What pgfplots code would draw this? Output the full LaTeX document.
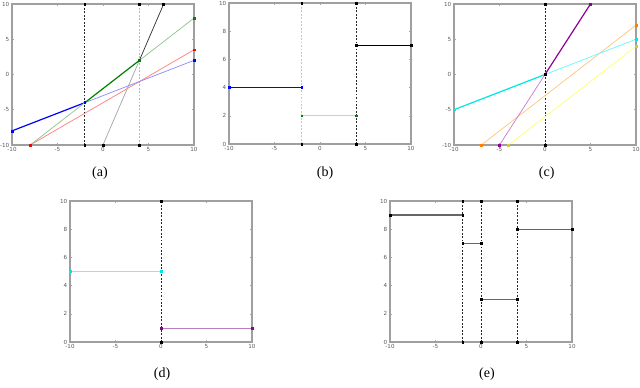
\documentclass[border=0pt]{standalone}
\usepackage{pgfplots}
\pgfplotsset{compat=1.18}
\usepackage{fontspec}
\setmainfont{Liberation Serif}
\newfontfamily\tickfont{DejaVu Sans}

\definecolor{lblue}{rgb}{0.55,0.55,1}
\definecolor{dgreen}{rgb}{0,0.5,0}
\definecolor{lgreen}{rgb}{0.55,0.78,0.55}
\definecolor{lred}{rgb}{1,0.5,0.5}
\definecolor{mcyan}{rgb}{0,0.9,0.9}
\definecolor{lcyan}{rgb}{0.4,0.98,0.98}
\definecolor{dpurple}{rgb}{0.55,0,0.6}
\definecolor{lpurple}{rgb}{0.78,0.5,0.8}
\definecolor{lorange}{rgb}{1,0.78,0.5}
\definecolor{lyellow}{rgb}{1,1,0.45}

\pgfplotsset{
  panel/.style={
    scale only axis, anchor=south west,
    width=136.5pt, height=105.75pt,
    xmin=-10, xmax=10, clip=false,
    xtick={-10,-5,0,5,10},
    axis line style={gray!75, line width=1.1pt},
    tick style={gray!70, line width=0.4pt},
    tick align=inside, major tick length=1.8pt,
    /pgf/number format/assume math mode=true,
    ticklabel style={font=\tickfont\fontsize{4.2}{5}\selectfont, text=black!65},
    xticklabel style={yshift=1.5pt},
    yticklabel style={xshift=1.5pt},
  },
  thin seg/.style={line width=0.55pt},
  thick seg/.style={line width=0.9pt},
  pts/.style={only marks, mark=square*, mark size=0.7pt},
  vdash/.style={line width=0.55pt, dash pattern=on 1.4pt off 1.2pt},
}

\begin{document}
\begin{tikzpicture}
\path[use as bounding box] (0,0) rectangle (480pt,291pt);

% (a)
\begin{axis}[panel, at={(9pt,182.25pt)}, ymin=-10, ymax=10, ytick={-10,-5,0,5,10}]
  \addplot[vdash, black!85] coordinates {(-2,-10) (-2,10)};
  \addplot[vdash, gray!55] coordinates {(4,-10) (4,10)};
  \addplot[thin seg, gray!70] coordinates {(0,-10) (4,2)};
  \addplot[thin seg, black!80] coordinates {(4,2) (6.667,10)};
  \addplot[thin seg, lred] coordinates {(-8,-10) (10,3.5)};
  \addplot[thin seg, lblue] coordinates {(-2,-4) (10,2)};
  \addplot[thick seg, blue] coordinates {(-10,-8) (-2,-4)};
  \addplot[thin seg, lgreen] coordinates {(-8,-10) (-2,-4)};
  \addplot[thin seg, lgreen] coordinates {(4,2) (10,8)};
  \addplot[thick seg, dgreen] coordinates {(-2,-4) (4,2)};
  \addplot[pts, black] coordinates {(-2,-10) (-2,10) (4,-10) (4,10) (0,-10) (6.667,10)};
  \addplot[pts, blue] coordinates {(-10,-8) (-2,-4) (10,2)};
  \addplot[pts, dgreen] coordinates {(4,2) (10,8)};
  \addplot[pts, red] coordinates {(-8,-10) (10,3.5)};
\end{axis}

% (b)
\begin{axis}[panel, at={(171.75pt,183pt)}, ymin=0, ymax=10, ytick={0,2,4,6,8,10}]
  \addplot[vdash, gray!45] coordinates {(-2,0) (-2,10)};
  \addplot[vdash, black!85] coordinates {(4,0) (4,10)};
  \addplot[thick seg, blue] coordinates {(-10,4) (-2,4)};
  \addplot[thick seg, lgreen!60] coordinates {(-2,2) (4,2)};
  \addplot[thin seg, black] coordinates {(4,7) (10,7)};
  \addplot[pts, black] coordinates {(-2,0) (-2,10) (4,0) (4,10) (4,7) (10,7)};
  \addplot[pts, blue] coordinates {(-10,4) (-2,4)};
  \addplot[pts, dgreen] coordinates {(-2,2) (4,2)};
\end{axis}

% (c)
\begin{axis}[panel, at={(340.5pt,182.25pt)}, ymin=-10, ymax=10, ytick={-10,-5,0,5,10}]
  \addplot[vdash, black!85] coordinates {(0,-10) (0,10)};
  \addplot[thin seg, lorange] coordinates {(-7,-10) (10,7)};
  \addplot[thin seg, lyellow] coordinates {(-4,-10) (10,4)};
  \addplot[thin seg, lcyan] coordinates {(0,0) (10,5)};
  \addplot[thick seg, mcyan] coordinates {(-10,-5) (0,0)};
  \addplot[thin seg, lpurple] coordinates {(-5,-10) (0,0)};
  \addplot[thick seg, dpurple] coordinates {(0,0) (5,10)};
  \addplot[pts, black] coordinates {(0,-10) (0,10) (0,0)};
  \addplot[pts, mcyan] coordinates {(-10,-5) (10,5)};
  \addplot[pts, dpurple] coordinates {(-5,-10) (5,10)};
  \addplot[pts, orange] coordinates {(-7,-10) (10,7)};
  \addplot[pts, yellow!80!black] coordinates {(-4,-10) (10,4)};
\end{axis}

% (d)
\begin{axis}[panel, at={(52.5pt,34.5pt)}, ymin=0, ymax=10, ytick={0,2,4,6,8,10}]
  \addplot[vdash, black!85] coordinates {(0,0) (0,10)};
  \addplot[thick seg, lcyan] coordinates {(-10,5) (0,5)};
  \addplot[thin seg, lpurple!80!gray] coordinates {(0,1) (10,1)};
  \addplot[pts, black] coordinates {(0,0) (0,10)};
  \addplot[pts, mcyan] coordinates {(-10,5) (0,5)};
  \addplot[pts, dpurple] coordinates {(0,1) (10,1)};
\end{axis}

% (e)
\begin{axis}[panel, at={(292.5pt,34.5pt)}, ymin=0, ymax=10, ytick={0,2,4,6,8,10}]
  \addplot[vdash, black!85] coordinates {(-2,0) (-2,10)};
  \addplot[vdash, black!85] coordinates {(0,0) (0,10)};
  \addplot[vdash, black!85] coordinates {(4,0) (4,10)};
  \addplot[thick seg, black!60] coordinates {(-10,9) (-2,9)};
  \addplot[thick seg, black!60] coordinates {(-2,7) (0,7)};
  \addplot[thick seg, black!60] coordinates {(0,3) (4,3)};
  \addplot[thick seg, black!60] coordinates {(4,8) (10,8)};
  \addplot[pts, black] coordinates {(-2,0) (-2,10) (0,0) (0,10) (4,0) (4,10)
    (-10,9) (-2,9) (-2,7) (0,7) (0,3) (4,3) (4,8) (10,8)};
\end{axis}

\node[font=\fontsize{10.5}{12}\selectfont] at (75pt,161.25pt) {(a)};
\node[font=\fontsize{10.5}{12}\selectfont] at (243.75pt,161.25pt) {(b)};
\node[font=\fontsize{10.5}{12}\selectfont] at (410pt,161.25pt) {(c)};
\node[font=\fontsize{10.5}{12}\selectfont] at (121.5pt,10.5pt) {(d)};
\node[font=\fontsize{10.5}{12}\selectfont] at (365.25pt,10.5pt) {(e)};
\end{tikzpicture}
\end{document}
